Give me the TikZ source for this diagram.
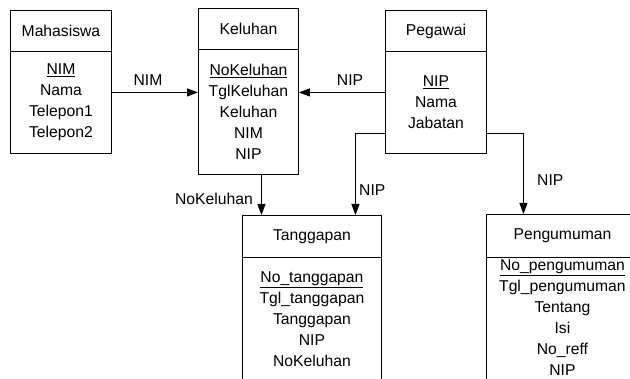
\documentclass[tikz,border=0pt]{standalone}
\usepackage{fontspec}
\setmainfont{Liberation Sans}
\usetikzlibrary{arrows.meta}

\tikzset{
  every node/.style={font=\fontsize{15.7}{21}\selectfont, inner sep=0pt},
  entbox/.style={draw, line width=0.9pt, anchor=north west, align=center},
  attrs/.style={align=center},
  lbl/.style={inner sep=0pt},
  rel/.style={line width=0.9pt, -{Triangle[length=11pt,width=8pt]}}
}

\begin{document}
\begin{tikzpicture}[x=1pt,y=-1pt]
\clip (0,0) rectangle (630,379);

% Mahasiswa
\node[entbox, minimum width=101pt, minimum height=41pt] (mahH) at (10,10) {Mahasiswa};
\node[entbox, minimum width=101pt, minimum height=102pt] (mahB) at (10,51)
  {\underline{NIM}\\Nama\\Telepon1\\Telepon2};

% Keluhan
\node[entbox, minimum width=100pt, minimum height=41pt] (kelH) at (198,8) {Keluhan};
\node[entbox, minimum width=100pt, minimum height=125pt] (kelB) at (198,49)
  {\underline{NoKeluhan}\\TglKeluhan\\Keluhan\\NIM\\NIP};

% Pegawai
\node[entbox, minimum width=101pt, minimum height=41pt] (pegH) at (385,10) {Pegawai};
\node[entbox, minimum width=101pt, minimum height=102pt] (pegB) at (385,51)
  {\underline{NIP}\\Nama\\Jabatan};

% Tanggapan
\node[entbox, minimum width=139pt, minimum height=42pt] (tanH) at (242,215) {Tanggapan};
\node[entbox, minimum width=139pt, minimum height=124pt] (tanB) at (242,257)
  {\underline{No\_tanggapan}\\Tgl\_tanggapan\\Tanggapan\\NIP\\NoKeluhan};

% Pengumuman (body runs past the lower edge)
\node[entbox, minimum width=152pt, minimum height=43pt] (penH) at (486,214) {Pengumuman};
\node[entbox, minimum width=152pt, minimum height=124pt] (penB) at (486,257) {};
\node[attrs] (penT) at ([yshift=2pt]penB.center)
  {\underline{No\_pengumuman}\\Tgl\_pengumuman\\Tentang\\Isi\\No\_reff\\NIP};

% Mahasiswa -> Keluhan
\coordinate (m1) at ([yshift=10pt]mahB.east);
\draw[rel] (m1) -- (kelB.west |- m1);
\node[lbl] (lNIM) at (148,80) {NIM};

% Pegawai -> Keluhan
\coordinate (p1) at ([yshift=10pt]pegB.west);
\draw[rel] (p1) -- (kelB.east |- p1);
\node[lbl] (lNIP1) at (350,80) {NIP};

% Keluhan -> Tanggapan
\coordinate (k1) at ([xshift=13pt]kelB.south);
\draw[rel] (k1) -- (k1 |- tanH.north);
\node[lbl, anchor=east] (lNoK) at (253,199) {NoKeluhan};

% Pegawai -> Tanggapan
\draw[rel] ([yshift=-31pt]pegB.west) -| ([xshift=43.5pt]tanH.north);
\node[lbl, anchor=west] (lNIP2) at (359,190) {NIP};

% Pegawai -> Pengumuman
\draw[rel] ([yshift=-31pt]pegB.east) -| ([xshift=-39pt]penH.north);
\node[lbl, anchor=west] (lNIP3) at (537,180) {NIP};

\end{tikzpicture}
\end{document}
